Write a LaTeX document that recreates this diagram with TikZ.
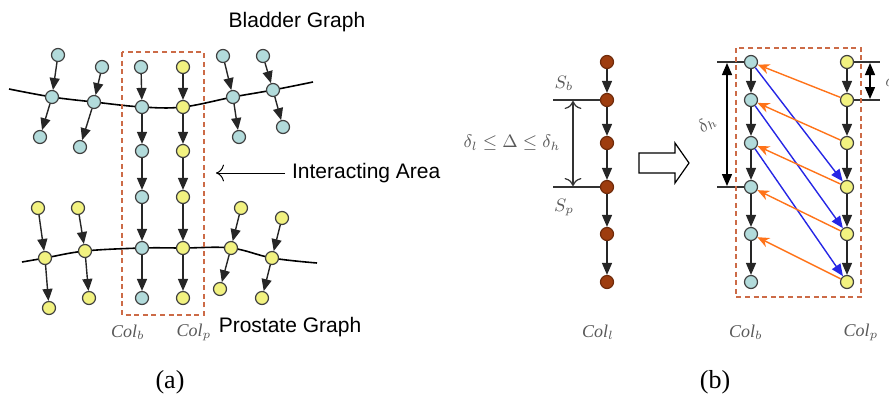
\documentclass[tikz,border=0pt]{standalone}
\usepackage{fontspec}
\setmainfont{Liberation Serif}
\newfontfamily\graphfont{Liberation Sans}
\usetikzlibrary{arrows.meta, positioning, backgrounds}
\definecolor{Bladder}{rgb}{0.70, 0.86, 0.86}
\definecolor{Prostate}{rgb}{0.95, 0.95, 0.50}
\definecolor{Rust}{rgb}{0.62, 0.24, 0.06}
\definecolor{AreaRed}{rgb}{0.80, 0.42, 0.28}
\definecolor{Tangerine}{rgb}{1.0, 0.45, 0.10}
\definecolor{Royal}{rgb}{0.15, 0.15, 0.90}
\definecolor{Grey60}{rgb}{0.35, 0.35, 0.35}

\begin{document}
\begin{tikzpicture}[
  x=0.5pt, y=-0.5pt,
  dot/.style={
    circle,
    draw=black!75,
    line width=0.6pt,
    minimum size=6.5pt,
    inner sep=0pt
  },
  bladderdot/.style={dot, fill=Bladder},
  prostatedot/.style={dot, fill=Prostate},
  coldot/.style={dot, draw=Rust!70!black, fill=Rust},
  link/.style={
    -{Triangle[length=6pt, width=5pt]},
    line width=0.7pt,
    color=black!85
  },
  bluelink/.style={link, color=Royal},
  orangelink/.style={-{Stealth[length=6pt, width=5pt]}, line width=0.7pt, color=Tangerine},
  dimlink/.style={{Triangle[length=6pt, width=5pt]}-{Triangle[length=6pt, width=5pt]}, line width=0.7pt},
  opendim/.style={{To[length=4pt]}-{To[length=4pt]}, line width=0.6pt, color=black!80},
  guide/.style={line width=0.6pt, color=black!80},
  graphline/.style={line width=0.8pt},
  areabox/.style={draw=AreaRed, dash pattern=on 2.5pt off 1.8pt, line width=0.7pt},
  graphtitle/.style={font=\graphfont\fontsize{10.5}{12}\selectfont},
  lbl/.style={font=\fontsize{9}{11}\selectfont, text=Grey60, inner sep=1pt},
  subcap/.style={font=\fontsize{13}{15}\selectfont}
]
\useasboundingbox (0,0) rectangle (889,403);

% (a) Bladder graph
\node[bladderdot] (bt1) at (58,55)  {};
\node[bladderdot] (b1)  at (52,97)  {};
\node[bladderdot] (bc1) at (40,137) {};
\node[bladderdot] (bt2) at (102,67) {};
\node[bladderdot] (b2)  at (94,102) {};
\node[bladderdot] (bc2) at (80,147) {};
\node[bladderdot] (bt3) at (223,56) {};
\node[bladderdot] (b3)  at (233,97) {};
\node[bladderdot] (bc3) at (239,137) {};
\node[bladderdot] (bt4) at (263,56) {};
\node[bladderdot] (b4)  at (273,90) {};
\node[bladderdot] (bc4) at (283,127) {};

% (a) Prostate graph
\node[prostatedot] (pt1) at (38,208)  {};
\node[prostatedot] (p1)  at (45,258)  {};
\node[prostatedot] (pc1) at (49,308)  {};
\node[prostatedot] (pt2) at (78,208)  {};
\node[prostatedot] (p2)  at (85,251)  {};
\node[prostatedot] (pc2) at (89,298)  {};
\node[prostatedot] (pt3) at (241,208) {};
\node[prostatedot] (p3)  at (231,248) {};
\node[prostatedot] (pc3) at (220,289) {};
\node[prostatedot] (pt4) at (282,218) {};
\node[prostatedot] (p4)  at (272,258) {};
\node[prostatedot] (pc4) at (262,298) {};

% (a) Columns in the interacting area
\node[bladderdot] (ca1) at (141,67)  {};
\node[bladderdot] (ca2) at (142,107) {};
\node[bladderdot] (ca3) at (142,151) {};
\node[bladderdot] (ca4) at (142,197) {};
\node[bladderdot] (ca5) at (142,248) {};
\node[bladderdot] (ca6) at (142,298) {};
\node[prostatedot] (cp1) at (183,67)  {};
\node[prostatedot] (cp2) at (183,107) {};
\node[prostatedot] (cp3) at (183,151) {};
\node[prostatedot] (cp4) at (183,197) {};
\node[prostatedot] (cp5) at (183,248) {};
\node[prostatedot] (cp6) at (183,298) {};

% Backbone curves
\coordinate (bl) at (9,89);
\coordinate (br) at (313,82);
\coordinate (pl) at (22,262);
\coordinate (pr) at (317,263);
\begin{scope}[on background layer]
\draw[graphline] plot[smooth, tension=0.6] coordinates
  {(bl) (b1.center) (b2.center) (ca2.center) (cp2.center) (b3.center) (b4.center) (br)};
\draw[graphline] plot[smooth, tension=0.6] coordinates
  {(pl) (p1.center) (p2.center) (ca5.center) (cp5.center) (p3.center) (p4.center) (pr)};
\end{scope}

% (a) Arrows
\draw[link] (bt1) -- (b1);
\draw[link] (b1)  -- (bc1);
\draw[link] (bt2) -- (b2);
\draw[link] (b2)  -- (bc2);
\draw[link] (bt3) -- (b3);
\draw[link] (b3)  -- (bc3);
\draw[link] (bt4) -- (b4);
\draw[link] (b4)  -- (bc4);
\draw[link] (pt1) -- (p1);
\draw[link] (p1)  -- (pc1);
\draw[link] (pt2) -- (p2);
\draw[link] (p2)  -- (pc2);
\draw[link] (pt3) -- (p3);
\draw[link] (p3)  -- (pc3);
\draw[link] (pt4) -- (p4);
\draw[link] (p4)  -- (pc4);
\draw[link] (ca1) -- (ca2);
\draw[link] (ca2) -- (ca3);
\draw[link] (ca3) -- (ca4);
\draw[link] (ca4) -- (ca5);
\draw[link] (ca5) -- (ca6);
\draw[link] (cp1) -- (cp2);
\draw[link] (cp2) -- (cp3);
\draw[link] (cp3) -- (cp4);
\draw[link] (cp4) -- (cp5);
\draw[link] (cp5) -- (cp6);

% Interacting area and labels
\draw[areabox] (122,52) rectangle (204,315);
\node[graphtitle] (bladder)  at (297,22)  {Bladder Graph};
\node[graphtitle] (prostate) at (290,327) {Prostate Graph};
\node[graphtitle, anchor=west] (interact) at (285,173) {Interacting Area};
\coordinate (areatip) at (216,173);
\draw[-{To[length=4pt]}, line width=0.5pt] (interact.west) -- (areatip);
\node[lbl] (colba) at (128,332) {\textit{Col}$_b$};
\node[lbl] (colpa) at (194,332) {\textit{Col}$_p$};
\node[subcap] (capa) at (170,382) {(a)};

% (b) Single column
\node[coldot] (l1) at (607,62)  {};
\node[coldot] (l2) at (607,100) {};
\node[coldot] (l3) at (607,143) {};
\node[coldot] (l4) at (607,187) {};
\node[coldot] (l5) at (607,234) {};
\node[coldot] (l6) at (607,282) {};
\draw[link] (l1) -- (l2);
\draw[link] (l2) -- (l3);
\draw[link] (l3) -- (l4);
\draw[link] (l4) -- (l5);
\draw[link] (l5) -- (l6);

% Split marks S_b and S_p
\coordinate (sb) at (553,100);
\coordinate (sp) at (553,187);
\draw[guide] (sb) -- (l2);
\draw[guide] (sp) -- (l4);
\coordinate (sbd) at (573,101);
\coordinate (spd) at (573,186);
\draw[opendim] (sbd) -- (spd);
\node[lbl] (sblabel) at (564,83)  {$S_b$};
\node[lbl] (splabel) at (564,208) {$S_p$};
\node[lbl] (range)   at (512,143) {$\delta_l \le \Delta \le \delta_h$};
\node[lbl] (colll)   at (598,332) {\textit{Col}$_l$};

% Hollow arrow (drawn as an outline)
\draw[line width=0.6pt, fill=white] (639,153) -- (675,153) -- (675,143) -- (689,163)
  -- (675,183) -- (675,173) -- (639,173) -- cycle;

% (b) Split columns
\node[bladderdot] (cb1) at (751,62)  {};
\node[bladderdot] (cb2) at (751,100) {};
\node[bladderdot] (cb3) at (751,143) {};
\node[bladderdot] (cb4) at (751,187) {};
\node[bladderdot] (cb5) at (751,234) {};
\node[bladderdot] (cb6) at (751,282) {};
\node[prostatedot] (cq1) at (847,62)  {};
\node[prostatedot] (cq2) at (847,100) {};
\node[prostatedot] (cq3) at (847,143) {};
\node[prostatedot] (cq4) at (847,187) {};
\node[prostatedot] (cq5) at (847,234) {};
\node[prostatedot] (cq6) at (847,282) {};
\draw[link] (cb1) -- (cb2);
\draw[link] (cb2) -- (cb3);
\draw[link] (cb3) -- (cb4);
\draw[link] (cb4) -- (cb5);
\draw[link] (cb5) -- (cb6);
\draw[link] (cq1) -- (cq2);
\draw[link] (cq2) -- (cq3);
\draw[link] (cq3) -- (cq4);
\draw[link] (cq4) -- (cq5);
\draw[link] (cq5) -- (cq6);

% Cross links
\draw[bluelink] (cb1) -- (cq4);
\draw[bluelink] (cb2) -- (cq5);
\draw[bluelink] (cb3) -- (cq6);
\draw[orangelink] (cq2) -- (cb1);
\draw[orangelink] (cq3) -- (cb2);
\draw[orangelink] (cq4) -- (cb3);
\draw[orangelink] (cq5) -- (cb4);
\draw[orangelink] (cq6) -- (cb5);

% delta_h and delta_l marks
\coordinate (hb1) at (717,62);
\coordinate (hb2) at (717,187);
\draw[guide] (hb1) -- (cb1);
\draw[guide] (hb2) -- (cb4);
\coordinate (dh1) at (727,63);
\coordinate (dh2) at (727,186);
\draw[dimlink] (dh1) -- (dh2);
\node[lbl, rotate=35] (dhlabel) at (707,124) {$\delta_h$};
\coordinate (hl1) at (880,62);
\coordinate (hl2) at (880,100);
\draw[guide] (cq1) -- (hl1);
\draw[guide] (cq2) -- (hl2);
\coordinate (dl1) at (870,63);
\coordinate (dl2) at (870,99);
\draw[dimlink] (dl1) -- (dl2);
\node[lbl, anchor=west] (dllabel) at (883,81) {$\delta_l$};

\draw[areabox] (736,48) rectangle (861,297);
\node[lbl] (colbb) at (746,332) {\textit{Col}$_b$};
\node[lbl] (colpb) at (861,332) {\textit{Col}$_p$};
\node[subcap] (capb) at (715,382) {(b)};

\end{tikzpicture}
\end{document}
